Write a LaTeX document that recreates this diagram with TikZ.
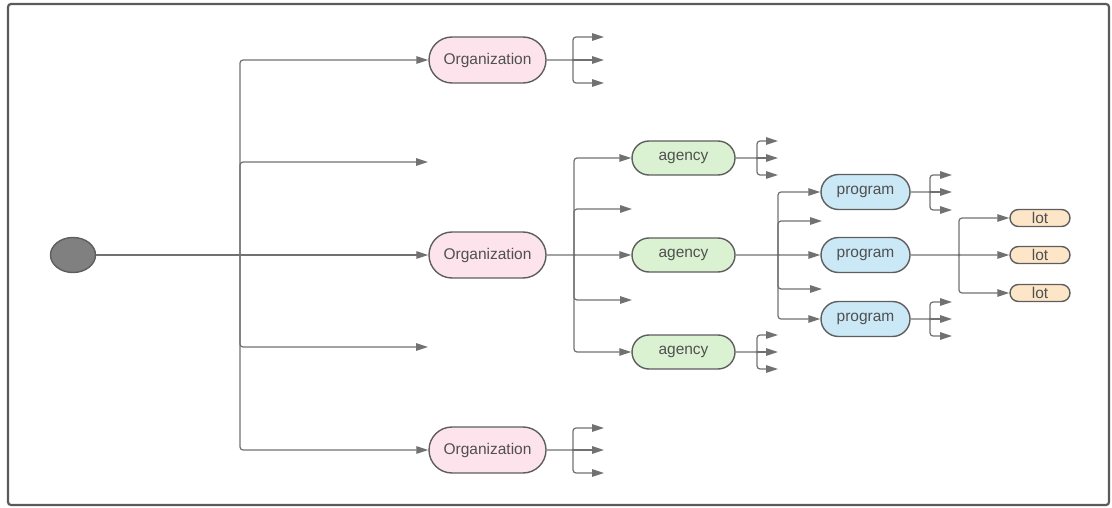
\documentclass[tikz,border=0pt]{standalone}
\usepackage{fontspec}
\setmainfont{Liberation Sans}
\usetikzlibrary{arrows.meta,shapes.misc,shapes.geometric}
\definecolor{ln}{HTML}{717171}
\definecolor{bd}{HTML}{5E5E5E}
\definecolor{tx}{HTML}{505050}
\definecolor{pinkf}{HTML}{FDE3EC}
\definecolor{greenf}{HTML}{DBF2D2}
\definecolor{bluef}{HTML}{CBE8F7}
\definecolor{peachf}{HTML}{FDE6C8}
\definecolor{rootf}{HTML}{808080}
\definecolor{frame}{HTML}{5A5A5A}
\begin{document}
\begin{tikzpicture}[x=1pt,y=-1pt,
  conn/.style={draw=ln,line width=1.2pt,rounded corners=3pt,-{Triangle[length=12pt,width=7.5pt]}},
  plain/.style={draw=ln,line width=1.2pt},
  pill/.style={rounded rectangle,draw=bd,line width=1.4pt,text=tx,font=\fontsize{15.5}{18}\selectfont,inner sep=0pt},
  orgbox/.style={pill,fill=pinkf,minimum width=117pt,minimum height=46pt},
  agbox/.style={pill,fill=greenf,minimum width=103pt,minimum height=34pt},
  prbox/.style={pill,fill=bluef,minimum width=89pt,minimum height=35pt},
  lotbox/.style={pill,fill=peachf,minimum width=60pt,minimum height=17pt},
  jdot/.style={fill=ln}]
\useasboundingbox (0,0) rectangle (1112,508);
\draw[frame,line width=2.2pt,rounded corners=3pt] (8,4) rectangle (1109,505);

% root
\node[ellipse,draw=bd,line width=1.4pt,fill=rootf,minimum width=45pt,minimum height=35pt,inner sep=0pt] (root) at (73,255) {};

% organizations
\node[orgbox] (org1) at (487.5,60) {Organization};
\node[orgbox] (org2) at (487.5,255) {Organization};
\node[orgbox] (org3) at (487.5,450) {Organization};

% agencies
\node[agbox] (ag1) at (683.5,158) {agency};
\node[agbox] (ag2) at (683.5,255) {agency};
\node[agbox] (ag3) at (683.5,352) {agency};

% programs
\node[prbox] (pr1) at (865.5,192) {program};
\node[prbox] (pr2) at (865.5,255) {program};
\node[prbox] (pr3) at (865.5,319) {program};

% lots
\node[lotbox] (lot1) at (1040,218) {lot};
\node[lotbox] (lot2) at (1040,255) {lot};
\node[lotbox] (lot3) at (1040,293) {lot};

% junctions and free ends
\coordinate (t) at (240,255);
\coordinate (e1) at (428,162);
\coordinate (e2) at (428,347);
\coordinate (j1) at (573,60);
\coordinate (j1a) at (604,37);
\coordinate (j1b) at (604,60);
\coordinate (j1c) at (604,83);
\coordinate (j3) at (573,450);
\coordinate (j3a) at (604,428);
\coordinate (j3b) at (604,450);
\coordinate (j3c) at (604,473);
\coordinate (j2) at (574,255);
\coordinate (e3) at (632,209);
\coordinate (e4) at (632,300);
\coordinate (ja1) at (757,158);
\coordinate (ja1a) at (778,141);
\coordinate (ja1b) at (778,158);
\coordinate (ja1c) at (778,175);
\coordinate (ja3) at (757,352);
\coordinate (ja3a) at (778,335);
\coordinate (ja3b) at (778,352);
\coordinate (ja3c) at (778,369);
\coordinate (ja2) at (778,255);
\coordinate (e5) at (822,221);
\coordinate (e6) at (822,289);
\coordinate (jp1) at (930,192);
\coordinate (jp1a) at (952,175);
\coordinate (jp1b) at (952,192);
\coordinate (jp1c) at (952,210);
\coordinate (jp3) at (930,319);
\coordinate (jp3a) at (952,302);
\coordinate (jp3b) at (952,319);
\coordinate (jp3c) at (952,336);
\coordinate (jp2) at (959,255);

% root to organizations
\draw[conn] (root) -- (org2);
\draw[conn] (t) |- (org1);
\draw[conn] (t) |- (e1);
\draw[conn] (t) |- (e2);
\draw[conn] (t) |- (org3);

% org1 fan
\draw[plain] (org1) -- (j1);
\draw[conn] (j1) |- (j1a);
\draw[conn] (j1) -- (j1b);
\draw[conn] (j1) |- (j1c);
% org3 fan
\draw[plain] (org3) -- (j3);
\draw[conn] (j3) |- (j3a);
\draw[conn] (j3) -- (j3b);
\draw[conn] (j3) |- (j3c);

% org2 to agencies
\draw[conn] (org2) -- (ag2);
\draw[conn] (j2) |- (ag1);
\draw[conn] (j2) |- (e3);
\draw[conn] (j2) |- (e4);
\draw[conn] (j2) |- (ag3);

% agency fans
\draw[plain] (ag1) -- (ja1);
\draw[conn] (ja1) |- (ja1a);
\draw[conn] (ja1) -- (ja1b);
\draw[conn] (ja1) |- (ja1c);
\draw[plain] (ag3) -- (ja3);
\draw[conn] (ja3) |- (ja3a);
\draw[conn] (ja3) -- (ja3b);
\draw[conn] (ja3) |- (ja3c);

% agency2 to programs
\draw[conn] (ag2) -- (pr2);
\draw[conn] (ja2) |- (pr1);
\draw[conn] (ja2) |- (e5);
\draw[conn] (ja2) |- (e6);
\draw[conn] (ja2) |- (pr3);

% program fans
\draw[plain] (pr1) -- (jp1);
\draw[conn] (jp1) |- (jp1a);
\draw[conn] (jp1) -- (jp1b);
\draw[conn] (jp1) |- (jp1c);
\draw[plain] (pr3) -- (jp3);
\draw[conn] (jp3) |- (jp3a);
\draw[conn] (jp3) -- (jp3b);
\draw[conn] (jp3) |- (jp3c);

% program2 to lots
\draw[conn] (pr2) -- (lot2);
\draw[conn] (jp2) |- (lot1);
\draw[conn] (jp2) |- (lot3);

% junction dots
\foreach \p in {t,j1,j2,j3,ja1,ja2,ja3,jp1,jp2,jp3} \fill[jdot] (\p) circle (1.5pt);
\end{tikzpicture}
\end{document}
